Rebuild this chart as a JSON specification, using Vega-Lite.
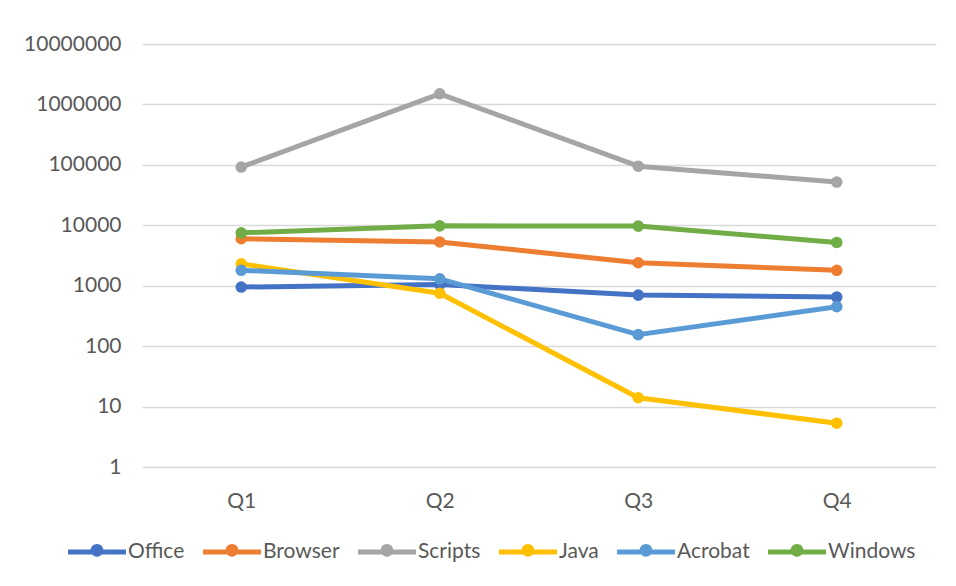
{
  "$schema": "https://vega.github.io/schema/vega-lite/v6.json",
  "autosize": "none",
  "width": 794,
  "height": 423,
  "padding": {"left": 142, "top": 44, "right": 20, "bottom": 119},
  "background": "#ffffff",
  "config": {
    "font": "Lato",
    "view": {"stroke": null},
    "axis": {"labelFont": "Lato", "labelFontSize": 21, "labelColor": "#595959", "titleFont": "Lato"},
    "legend": {"labelFont": "Lato", "labelFontSize": 21, "labelColor": "#595959"}
  },
  "data": {
    "values": [
      {"quarter": "Q1", "series": "Office", "count": 950},
      {"quarter": "Q2", "series": "Office", "count": 1050},
      {"quarter": "Q3", "series": "Office", "count": 700},
      {"quarter": "Q4", "series": "Office", "count": 650},
      {"quarter": "Q1", "series": "Browser", "count": 6000},
      {"quarter": "Q2", "series": "Browser", "count": 5300},
      {"quarter": "Q3", "series": "Browser", "count": 2400},
      {"quarter": "Q4", "series": "Browser", "count": 1800},
      {"quarter": "Q1", "series": "Scripts", "count": 92000},
      {"quarter": "Q2", "series": "Scripts", "count": 1500000},
      {"quarter": "Q3", "series": "Scripts", "count": 95000},
      {"quarter": "Q4", "series": "Scripts", "count": 52000},
      {"quarter": "Q1", "series": "Java", "count": 2300},
      {"quarter": "Q2", "series": "Java", "count": 750},
      {"quarter": "Q3", "series": "Java", "count": 14},
      {"quarter": "Q4", "series": "Java", "count": 5.3},
      {"quarter": "Q1", "series": "Acrobat", "count": 1800},
      {"quarter": "Q2", "series": "Acrobat", "count": 1300},
      {"quarter": "Q3", "series": "Acrobat", "count": 155},
      {"quarter": "Q4", "series": "Acrobat", "count": 450},
      {"quarter": "Q1", "series": "Windows", "count": 7500},
      {"quarter": "Q2", "series": "Windows", "count": 9800},
      {"quarter": "Q3", "series": "Windows", "count": 9700},
      {"quarter": "Q4", "series": "Windows", "count": 5200}
    ]
  },
  "mark": {
    "type": "line",
    "strokeWidth": 5,
    "strokeCap": "round",
    "strokeJoin": "round",
    "point": {"filled": true, "size": 135, "opacity": 1}
  },
  "encoding": {
    "x": {
      "field": "quarter",
      "type": "ordinal",
      "scale": {"type": "point", "padding": 0.5},
      "axis": {"title": null, "domain": false, "ticks": false, "tickSize": 0, "labelPadding": 23, "labelAngle": 0, "grid": false}
    },
    "y": {
      "field": "count",
      "type": "quantitative",
      "scale": {"type": "log", "domain": [1, 10000000], "nice": false},
      "axis": {
        "title": null,
        "values": [1, 10, 100, 1000, 10000, 100000, 1000000, 10000000],
        "format": "d",
        "domain": false,
        "ticks": false,
        "tickSize": 0,
        "labelPadding": 21,
        "grid": true,
        "gridColor": "#D9D9D9",
        "gridWidth": 1.3
      }
    },
    "color": {
      "field": "series",
      "type": "nominal",
      "sort": ["Office", "Browser", "Scripts", "Java", "Acrobat", "Windows"],
      "scale": {
        "domain": ["Office", "Browser", "Scripts", "Java", "Acrobat", "Windows"],
        "range": ["#4472C4", "#ED7D31", "#A5A5A5", "#FFC000", "#5B9BD5", "#70AD47"]
      },
      "legend": {
        "title": null,
        "orient": "none",
        "direction": "horizontal",
        "legendX": -74,
        "legendY": 479,
        "padding": 0,
        "symbolType": "M-1,-0.09 L1,-0.09 L1,0.09 L-1,0.09 Z M-0.22,-0.06 A0.22,0.22 0 1,1 0.22,-0.06 A0.22,0.22 0 1,1 -0.22,-0.06 Z",
        "symbolSize": 3364,
        "symbolStrokeWidth": 0,
        "labelOffset": 2,
        "columnPadding": 18,
        "encode": {
          "symbols": {
            "update": {
              "fill": {"scale": "color", "field": "value"},
              "stroke": {"value": "transparent"},
              "opacity": {"value": 1}
            }
          }
        }
      }
    }
  }
}
